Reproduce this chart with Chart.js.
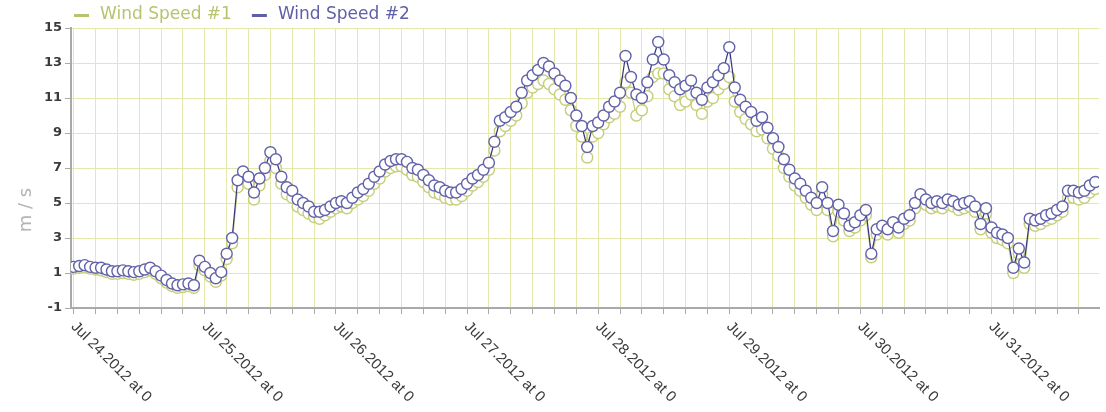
<!DOCTYPE html>
<html>
<head>
<meta charset="utf-8">
<script src="https://cdn.jsdelivr.net/npm/chart.js@4/dist/chart.umd.min.js"></script>
<style>
  html, body { margin: 0; padding: 0; background: #fff; }
  canvas { display: block; }
</style>
</head>
<body>
<canvas id="wind" width="1106" height="412"></canvas>
<script>
// hourly readings, Jul 24 00:00 .. Jul 31 19:00
const speed1 = [
    1.25, 1.3, 1.35, 1.25, 1.2, 1.15, 1.05, 0.95, 0.95, 1.0,
    0.95, 0.9, 0.95, 1.05, 1.15, 0.95, 0.7, 0.45, 0.25, 0.15,
    0.2, 0.25, 0.15, 1.45, 1.15, 0.8, 0.5, 0.85, 1.8, 2.7,
    5.9, 6.4, 6.1, 5.2, 6.0, 6.6, 7.4, 7.0, 6.1, 5.5,
    5.3, 4.8, 4.6, 4.4, 4.2, 4.1, 4.3, 4.5, 4.7, 4.8,
    4.7, 5.0, 5.2, 5.4, 5.7, 6.1, 6.4, 6.8, 7.0, 7.1,
    7.1, 6.9, 6.6, 6.5, 6.2, 5.9, 5.6, 5.5, 5.3, 5.2,
    5.2, 5.4, 5.7, 6.0, 6.2, 6.5, 6.9, 8.0, 9.1, 9.4,
    9.7, 10.0, 10.7, 11.3, 11.6, 11.8, 12.0, 11.8, 11.5, 11.2,
    10.9, 10.3, 9.4, 8.8, 7.6, 8.8, 9.0, 9.5, 9.9, 10.1,
    10.5, 11.9, 11.3, 10.0, 10.3, 11.1, 12.2, 12.4, 12.4, 11.5,
    11.1, 10.6, 10.8, 11.2, 10.6, 10.1, 10.8, 11.0, 11.5, 11.8,
    12.2, 10.8, 10.2, 9.8, 9.5, 9.1, 9.2, 8.7, 8.1, 7.7,
    7.0, 6.5, 6.0, 5.7, 5.3, 4.9, 4.6, 5.5, 4.6, 3.1,
    4.5, 4.0, 3.4, 3.6, 4.0, 4.3, 1.9, 3.2, 3.4, 3.2,
    3.6, 3.3, 3.8, 4.0, 4.7, 5.1, 4.9, 4.7, 4.8, 4.7,
    4.9, 4.8, 4.6, 4.7, 4.8, 4.5, 3.5, 4.4, 3.3, 3.0,
    2.9, 2.7, 1.0, 2.1, 1.3, 3.8, 3.7, 3.8, 4.0, 4.1,
    4.3, 4.5, 5.3, 5.3, 5.2, 5.3, 5.6, 5.8
];

const speed2 = [
    1.35, 1.4, 1.45, 1.35, 1.3, 1.3, 1.2, 1.1, 1.1, 1.15,
    1.1, 1.05, 1.1, 1.2, 1.3, 1.1, 0.85, 0.6, 0.4, 0.3,
    0.35, 0.4, 0.3, 1.7, 1.35, 1.0, 0.7, 1.05, 2.1, 3.0,
    6.3, 6.8, 6.5, 5.6, 6.4, 7.0, 7.9, 7.5, 6.5, 5.9,
    5.7, 5.2, 5.0, 4.8, 4.5, 4.5, 4.6, 4.8, 5.0, 5.1,
    5.0, 5.3, 5.6, 5.8, 6.1, 6.5, 6.8, 7.2, 7.4, 7.5,
    7.5, 7.35, 7.0, 6.9, 6.6, 6.3, 6.0, 5.9, 5.7, 5.6,
    5.6, 5.8, 6.1, 6.4, 6.6, 6.9, 7.3, 8.5, 9.7, 9.9,
    10.2, 10.5, 11.3, 12.0, 12.3, 12.6, 13.0, 12.8, 12.4, 12.0,
    11.7, 11.0, 10.0, 9.4, 8.2, 9.4, 9.6, 10.0, 10.5, 10.8,
    11.3, 13.4, 12.2, 11.2, 11.0, 11.9, 13.2, 14.2, 13.2, 12.3,
    11.9, 11.5, 11.7, 12.0, 11.3, 10.9, 11.6, 11.9, 12.3, 12.7,
    13.9, 11.6, 10.9, 10.5, 10.2, 9.7, 9.9, 9.3, 8.7, 8.2,
    7.5, 6.9, 6.4, 6.1, 5.7, 5.3, 5.0, 5.9, 5.0, 3.4,
    4.9, 4.4, 3.7, 3.9, 4.3, 4.6, 2.1, 3.5, 3.7, 3.5,
    3.9, 3.6, 4.1, 4.3, 5.0, 5.5, 5.2, 5.0, 5.1, 5.0,
    5.2, 5.1, 4.9, 5.0, 5.1, 4.8, 3.8, 4.7, 3.6, 3.3,
    3.2, 3.0, 1.3, 2.4, 1.6, 4.1, 4.0, 4.1, 4.3, 4.4,
    4.6, 4.8, 5.7, 5.7, 5.6, 5.7, 6.0, 6.2
];

const dayLabels = [
    'Jul 24.2012 at 0', 'Jul 25.2012 at 0', 'Jul 26.2012 at 0', 'Jul 27.2012 at 0',
    'Jul 28.2012 at 0', 'Jul 29.2012 at 0', 'Jul 30.2012 at 0', 'Jul 31.2012 at 0'
];
const dayHours = [0, 24, 48, 72, 96, 120, 144, 168];
const yTitle = 'm / s';

// hour offset of every reading from Jul 24 00:00
const hours = speed1.map((v, i) => i);

const OLIVE = '#c6ce7a';
const BLUE = '#6262ab';
const GRID = '#e4e8ac';
const AXIS = '#a9a9a9';

// legend, y title and slanted day labels
const extras = {
    id: 'extras',
    afterDraw(chart) {
        const ctx = chart.ctx;
        const xs = chart.scales.x;
        ctx.save();

        // legend
        ctx.font = '17px "DejaVu Sans"';
        ctx.textBaseline = 'middle';
        let lx = 74;
        chart.data.datasets.forEach(ds => {
            ctx.fillStyle = ds.legendColor;
            ctx.fillRect(lx, 14, 15, 3);
            ctx.fillText(ds.label, lx + 26, 15);
            lx += 26 + ctx.measureText(ds.label).width + 20;
        });

        // y axis title
        ctx.save();
        ctx.translate(26, 210);
        ctx.rotate(-Math.PI / 2);
        ctx.font = '18px "DejaVu Sans"';
        ctx.fillStyle = '#b3b3b3';
        ctx.textAlign = 'center';
        ctx.fillText(yTitle, 0, 0);
        ctx.restore();

        // x labels, slanted down to the right
        ctx.font = '15px "Liberation Sans"';
        ctx.fillStyle = '#3a3a3a';
        ctx.textAlign = 'left';
        ctx.textBaseline = 'top';
        dayHours.forEach((h, i) => {
            const px = xs.getPixelForValue(h);
            ctx.save();
            ctx.translate(px + 5, xs.top + 11);
            ctx.rotate(Math.PI / 4);
            ctx.fillText(dayLabels[i], 0, 0);
            ctx.restore();
        });
        ctx.restore();
    }
};

const gridHours = [];
for (let h = 0; h <= 184; h += 4) gridHours.push(h);

new Chart(document.getElementById('wind').getContext('2d'), {
    type: 'line',
    data: {
        labels: hours,
        datasets: [{
            label: 'Wind Speed #1',
            data: speed1,
            legendColor: '#b9c36e',
            borderColor: OLIVE,
            borderWidth: 1.2,
            pointRadius: 5.5,
            pointBorderWidth: 1.4,
            pointBorderColor: OLIVE,
            pointBackgroundColor: '#fff',
            tension: 0,
            order: 1
        }, {
            label: 'Wind Speed #2',
            data: speed2,
            legendColor: '#6060a8',
            borderColor: '#33337e',
            borderWidth: 1.2,
            pointRadius: 5.5,
            pointBorderWidth: 1.4,
            pointBorderColor: BLUE,
            pointBackgroundColor: '#fff',
            tension: 0,
            order: 0
        }]
    },
    options: {
        responsive: false,
        animation: false,
        devicePixelRatio: 1,
        layout: { padding: { top: 28, right: 0, bottom: 0, left: 0 } },
        plugins: {
            legend: { display: false },
            tooltip: { enabled: false }
        },
        scales: {
            x: {
                type: 'linear',
                min: -0.5,
                max: 187.7,
                afterBuildTicks: s => { s.ticks = gridHours.map(v => ({ value: v })); },
                afterFit: s => { s.height = 104; },
                ticks: { display: false },
                grid: { color: GRID, tickColor: AXIS, tickLength: 6, lineWidth: 1 },
                border: { color: AXIS, width: 2 }
            },
            y: {
                min: -1,
                max: 15,
                afterFit: s => { s.width = 71; },
                ticks: {
                    stepSize: 2,
                    color: '#3a3a3a',
                    padding: 3,
                    font: { family: '"DejaVu Sans"', size: 13, weight: 'bold' }
                },
                grid: { color: GRID, tickColor: AXIS, tickLength: 6 },
                border: { color: AXIS, width: 2 }
            }
        }
    },
    plugins: [extras]
});
</script>
</body>
</html>
